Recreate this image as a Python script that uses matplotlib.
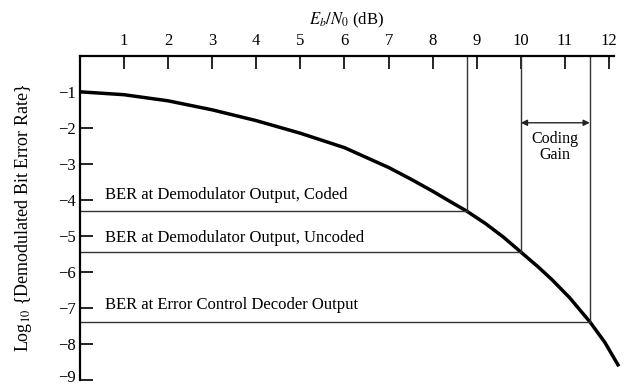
import matplotlib
matplotlib.use("Agg")
import matplotlib.pyplot as plt
from matplotlib.transforms import ScaledTranslation

plt.rcParams['font.family'] = ['Liberation Serif', 'DejaVu Serif']
plt.rcParams['mathtext.fontset'] = 'stix'

# BER curve (Eb/N0 in dB, log10 BER)
ebn0 = [0, 1, 2, 3, 4, 5, 6, 7, 7.5, 8, 8.5, 8.77, 9.2, 9.6, 10.0,
        10.4, 10.7, 11.1, 11.56, 11.9, 12.22]
log_ber = [-1.0, -1.08, -1.25, -1.50, -1.80, -2.15, -2.55, -3.10, -3.42, -3.76,
           -4.12, -4.31, -4.66, -5.03, -5.45, -5.87, -6.21, -6.71, -7.38, -7.95, -8.62]

# operating points: (Eb/N0, log10 BER)
points_x = [8.77, 10.0, 11.56]
points_y = [-4.31, -5.45, -7.38]
labels = ["BER at Demodulator Output, Coded",
          "BER at Demodulator Output, Uncoded",
          "BER at Error Control Decoder Output"]
label_y = [-3.87, -5.05, -6.92]

x_ticks = list(range(1, 13))
y_ticks = list(range(-1, -10, -1))

fig = plt.figure(figsize=(6.28, 3.86), dpi=100)
ax = fig.add_axes([0.127, 0.0155, 0.85, 0.840])

ax.plot(ebn0, log_ber, color='black', lw=2.5, clip_on=False, solid_capstyle='butt')

# horizontal and vertical guide lines
for px, py in zip(points_x, points_y):
    ax.plot([0, px], [py, py], color='#333333', lw=1.0)
    ax.plot([px, px], [py, 0], color='#333333', lw=1.0)

for txt, ly in zip(labels, label_y):
    ax.text(0.57, ly, txt, fontsize=12, va='center', ha='left')

# coding gain arrow
ax.annotate('', xy=(points_x[1], -1.86), xytext=(points_x[2], -1.86),
            arrowprops=dict(arrowstyle='<|-|>', color='#222222', lw=1.0,
                            mutation_scale=9, shrinkA=0, shrinkB=0))
ax.text(10.77, -2.53, "Coding\nGain", fontsize=11.5, ha='center', va='center',
        linespacing=0.95)

ax.set_xlim(0, 12.1)
ax.set_ylim(-9, 0)

for s in ['right', 'bottom']:
    ax.spines[s].set_visible(False)
for s in ['top', 'left']:
    ax.spines[s].set_linewidth(1.6)

ax.set_xticks(x_ticks)
ax.set_yticks(y_ticks)
ax.tick_params(axis='x', top=True, bottom=False, labeltop=True, labelbottom=False,
               direction='in', length=9, width=1.2, labelsize=12, pad=5)
ax.tick_params(axis='y', direction='in', length=9, width=1.2, labelsize=12, pad=3)

# nudge the bottom tick label up so it is not cut by the figure edge
last = ax.get_yticklabels()[-1]
last.set_transform(last.get_transform() + ScaledTranslation(0, 3 / 72, fig.dpi_scale_trans))

ax.xaxis.set_label_position('top')
ax.set_xlabel(r"$E_b/N_0$ (dB)", fontsize=12, labelpad=6)
ax.set_ylabel(r"Log$_{10}$ {Demodulated Bit Error Rate}", fontsize=13, labelpad=17)

fig.savefig("out.png", dpi=100)
